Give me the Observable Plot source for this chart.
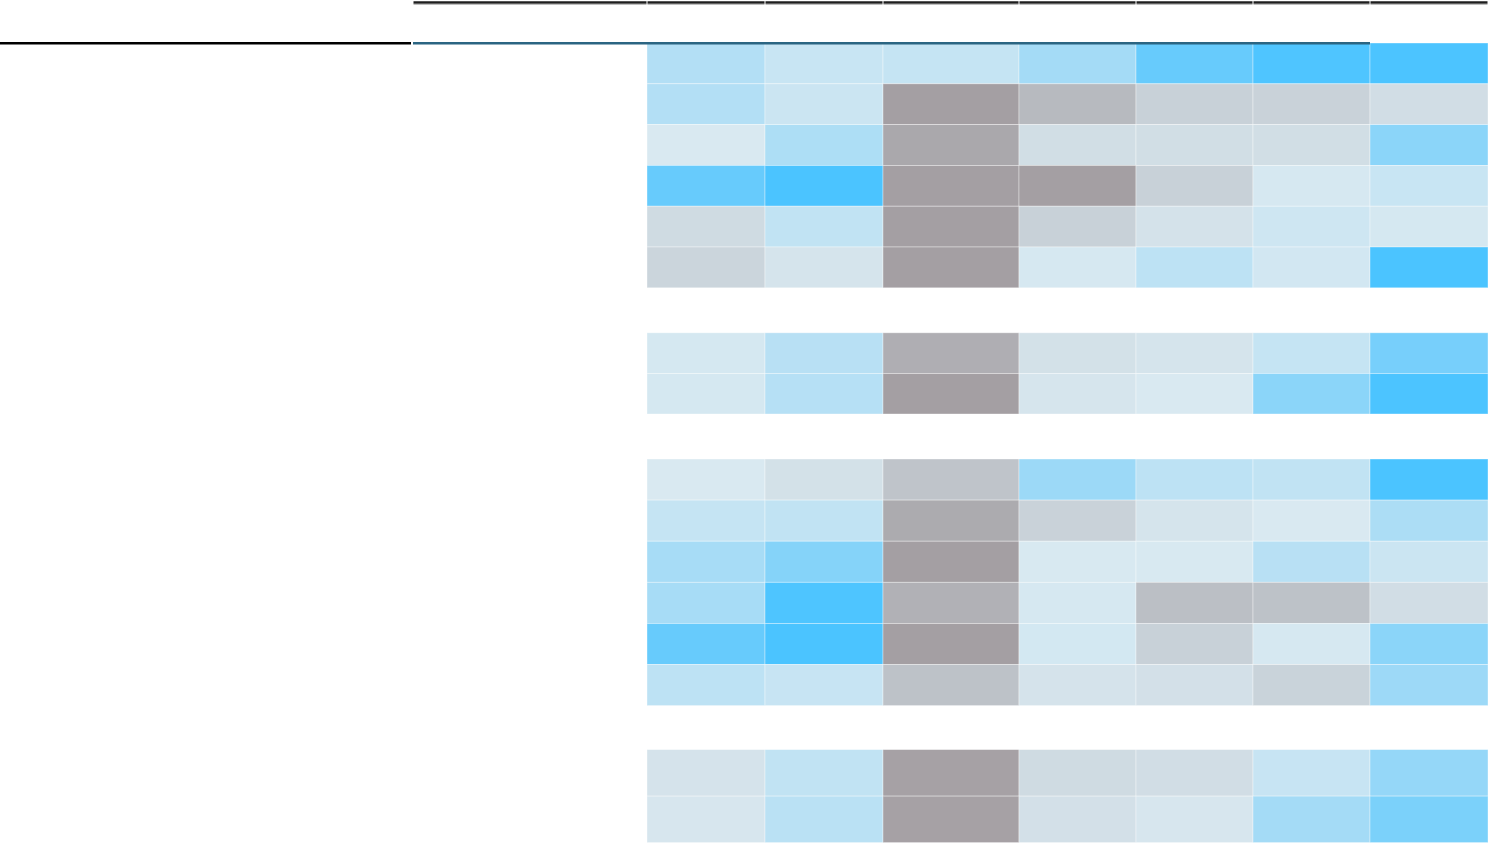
<!DOCTYPE html>
<html>
<head>
<meta charset="utf-8">
<script src="https://cdn.jsdelivr.net/npm/d3@7"></script>
<script src="https://cdn.jsdelivr.net/npm/@observablehq/plot@0.6"></script>
<style>
  html, body { margin: 0; padding: 0; background: #ffffff; }
  #chart svg { display: block; }
</style>
</head>
<body>
<div id="chart"></div>
<script>
// ---- data ----
const columns = ["C1", "C2", "C3", "C4", "C5", "C6", "C7"];
const groups = ["G1", "G2", "G3", "G4"];
const rows = ["R1","R2","R3","R4","R5","R6","R7","R8","R9","R10","R11","R12","R13","R14","R15","R16"];
const rowGroup = ["G1","G1","G1","G1","G1","G1","G2","G2","G3","G3","G3","G3","G3","G3","G4","G4"];
// scores (-100 = grey end, 0 = neutral, +100 = blue end), one list per row
const values = [
  [  27,  12,   14,  37,  80,  97,  99],
  [  27,  10, -100, -64, -32, -31, -16],
  [   0,  31,  -88, -15, -15, -15,  55],
  [  80, 100, -100,-100, -32,   2,  12],
  [ -19,  17, -100, -32,  -9,   8,   3],
  [ -27,  -7, -100,   2,  20,   5, 100],
  [   3,  23,  -80, -11,  -7,  14,  69],
  [   3,  25, -100,  -5,   0,  55,  99],
  [   0, -11,  -50,  43,  20,  17, 100],
  [  14,  17,  -84, -31,  -7,   0,  32],
  [  35,  59, -100,   1,   1,  23,  10],
  [  35,  98,  -76,   2, -57, -53, -16],
  [  80, 100, -100,   4, -32,   2,  55],
  [  20,  13,  -53,  -8, -12, -30,  42],
  [  -8,  17,  -97, -19, -16,  13,  48],
  [  -4,  22,  -97, -12,  -4,  37,  66]
];

// ---- layout (table geometry, px) ----
const stubRight = 411, spanLeft = 413, tableLeft = 647, W = 1490, H = 843;
const colWidths = [118, 118, 136, 117, 117, 117, 118];
const headerBottom = 43;
const groupRowHeight = {G1: 40.8, G2: 40.6, G3: 41.1, G4: 46.5};
const groupGapBefore = {G1: 0, G2: 45, G3: 45, G4: 44};

const colLeft = [];
{ let acc = tableLeft; for (const w of colWidths) { colLeft.push(acc); acc += w; } }

const rowTop = [], rowBottom = [];
{
  let acc = headerBottom, prev = null;
  rows.forEach((r, i) => {
    const g = rowGroup[i];
    if (g !== prev) { acc += groupGapBefore[g]; prev = g; }
    rowTop.push(acc);
    acc += groupRowHeight[g];
    rowBottom.push(acc);
  });
}

const cells = [];
rows.forEach((r, i) => columns.forEach((c, j) => {
  cells.push({row: r, col: c, value: values[i][j],
    x1: colLeft[j], x2: colLeft[j] + colWidths[j], y1: rowTop[i], y2: rowBottom[i]});
}));

// header border segments (one per column of the spanned header)
const spanCols = [{x1: spanLeft, x2: tableLeft}].concat(
  columns.map((c, j) => ({x1: colLeft[j], x2: colLeft[j] + colWidths[j]})));
const topSegments = spanCols.map(s => ({x1: s.x1 + 0.5, x2: s.x2 - 0.5}));
const tealSegments = spanCols.slice(0, spanCols.length - 1).map(s => ({x1: s.x1, x2: s.x2}));

const chart = Plot.plot({
  width: W,
  height: H,
  margin: 0,
  x: {type: "linear", domain: [0, W], range: [0, W], axis: null},
  y: {type: "linear", domain: [0, H], range: [0, H], axis: null},
  color: {type: "linear", domain: [-100, 0, 100], range: ["#a49fa3", "#d9e9f1", "#4bc4ff"], interpolate: "rgb"},
  style: {background: "#ffffff"},
  marks: [
    Plot.rect(cells, {x1: "x1", x2: "x2", y1: "y1", y2: "y2", fill: "value",
      stroke: "#ffffff", strokeWidth: 0.8, strokeOpacity: 0.45}),
    // top border of column spanner
    Plot.ruleY(topSegments, {x1: "x1", x2: "x2", y: 2, stroke: "#1e1e1e", strokeWidth: 2.4}),
    Plot.ruleY(topSegments, {x1: "x1", x2: "x2", y: 3.8, stroke: "#9a9a9a", strokeWidth: 0.8}),
    // header bottom borders
    Plot.ruleY([{x1: 0, x2: stubRight}], {x1: "x1", x2: "x2", y: 42.8, stroke: "#000000", strokeWidth: 2.6}),
    Plot.ruleY(tealSegments, {x1: "x1", x2: "x2", y: 42.8, stroke: "#2b6582", strokeWidth: 2.6})
  ]
});
document.getElementById("chart").appendChild(chart);
</script>
</body>
</html>
